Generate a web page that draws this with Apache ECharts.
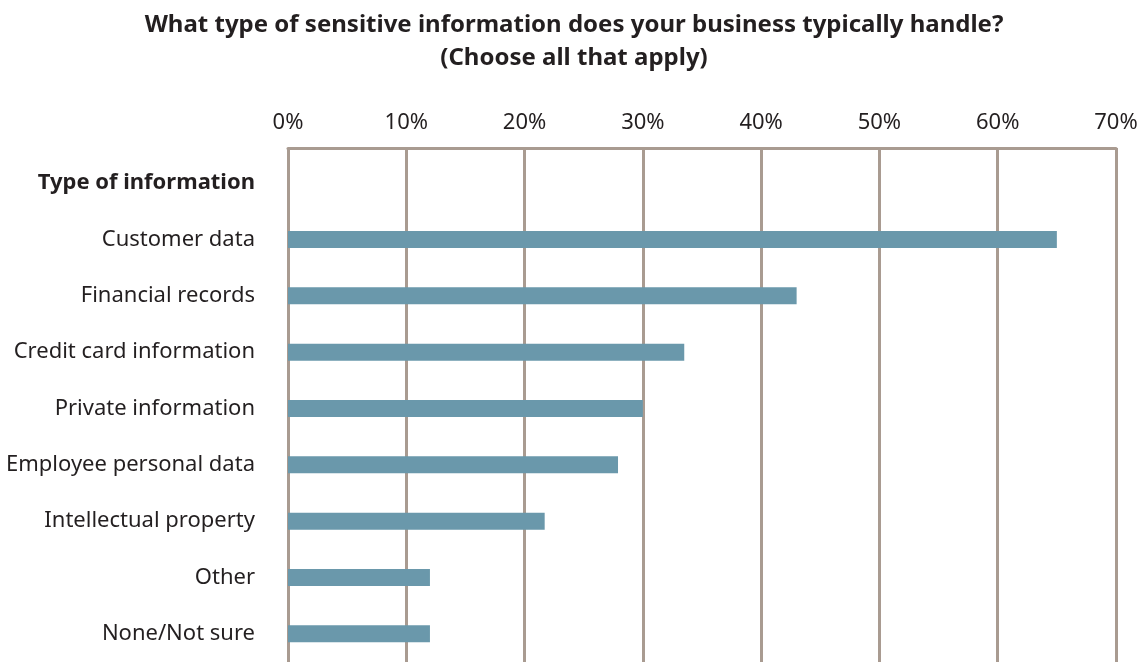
<!DOCTYPE html>
<html>
<head>
<meta charset="utf-8">
<script src="https://cdn.jsdelivr.net/npm/echarts@6/dist/echarts.min.js"></script>
<style>
  html, body { margin: 0; padding: 0; background: #fff; }
  #chart { width: 1148px; height: 665px; }
</style>
</head>
<body>
<div id="chart"></div>
<script>
var categories = ['Type of information', 'Customer data', 'Financial records', 'Credit card information',
  'Private information', 'Employee personal data', 'Intellectual property', 'Other', 'None/Not sure'];
var values = ['-', 65, 43, 33.5, 30, 27.9, 21.7, 12, 12];
var ticks = [0, 10, 20, 30, 40, 50, 60, 70];

var gridColor = '#a99b91';
var chart = echarts.init(document.getElementById('chart'));
var option = {
    animation: false,
    textStyle: { fontFamily: 'Noto Sans' },
    title: {
        text: 'What type of sensitive information does your business typically handle?\n(Choose all that apply)',
        left: 'center',
        top: 4,
        textStyle: {
            fontFamily: 'Noto Sans',
            fontSize: 24,
            fontWeight: 'bold',
            color: '#231f20',
            lineHeight: 33
        }
    },
    grid: {
        left: 288,
        right: 32,
        top: 155,
        bottom: 3
    },
    xAxis: {
        type: 'value',
        position: 'top',
        offset: 7,
        min: ticks[0],
        max: ticks[ticks.length - 1],
        interval: 10,
        axisLine: { show: true, lineStyle: { color: gridColor, width: 3 } },
        axisTick: { show: true, inside: true, length: 7, lineStyle: { color: gridColor, width: 3 } },
        splitLine: { show: true, lineStyle: { color: gridColor, width: 3 } },
        axisLabel: {
            formatter: '{value}%',
            fontSize: 22,
            color: '#231f20',
            margin: 14
        }
    },
    yAxis: {
        type: 'category',
        inverse: true,
        data: categories,
        axisLine: { show: false },
        axisTick: { show: false },
        axisLabel: {
            fontSize: 22,
            color: '#231f20',
            margin: 33,
            formatter: function (v, i) {
                return i === 0 ? '{h|' + v + '}' : v;
            },
            rich: {
                h: { fontSize: 22, fontWeight: 'bold', color: '#231f20', fontFamily: 'Noto Sans' }
            }
        }
    },
    series: [{
        type: 'bar',
        data: values,
        barWidth: 17,
        itemStyle: { color: '#6a98ab' }
    }]
};
chart.setOption(option);
</script>
</body>
</html>
